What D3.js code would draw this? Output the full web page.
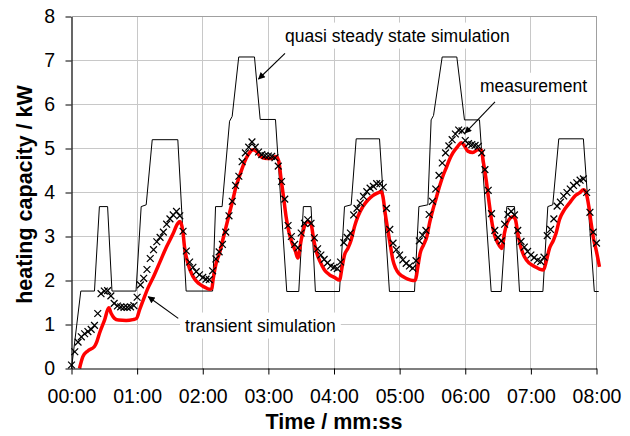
<!DOCTYPE html>
<html>
<head>
<meta charset="utf-8">
<script src="https://cdn.jsdelivr.net/npm/d3@7"></script>
<style>
  html, body { margin: 0; padding: 0; background: #fff; }
  svg { display: block; }
  text { font-family: "Liberation Sans", Arial, sans-serif; fill: #000; }
</style>
</head>
<body>
<svg id="chart" width="630" height="436"></svg>
<script>
// ---------------- DATA ----------------
const xTickValues = [0, 60, 120, 180, 240, 300, 360, 420, 480];
const xTickLabels = ["00:00", "01:00", "02:00", "03:00", "04:00", "05:00", "06:00", "07:00", "08:00"];
const yTickValues = [0, 1, 2, 3, 4, 5, 6, 7, 8];

// quasi steady state simulation (time s, kW)
const qssTime = [0, 8.5, 21, 25.5, 33, 37, 59, 63.7, 68.3, 73.8, 97.2, 104.8, 129, 131.7, 137.7, 144.5, 146.9, 152.9, 167.3, 172.5, 186.5, 196.8, 207.8, 212, 219, 223, 245, 249.6, 255.7, 260.3, 281.6, 290.7, 313.6, 317.6, 325.8, 328.8, 331, 338.9, 352.3, 359.3, 373, 383.7, 392.9, 398, 405, 409.6, 431, 435.5, 440, 445.5, 468, 478, 482];
const qssValue = [0, 1.76, 1.76, 3.68, 3.68, 1.76, 1.76, 3.68, 3.72, 5.2, 5.2, 1.76, 1.76, 3.68, 3.68, 5.62, 5.73, 7.08, 7.08, 5.66, 5.66, 1.75, 1.75, 3.68, 3.68, 1.75, 1.75, 3.68, 3.72, 5.22, 5.22, 1.75, 1.75, 3.68, 3.72, 5.65, 5.75, 7.08, 7.08, 5.65, 5.65, 1.75, 1.75, 3.68, 3.68, 1.75, 1.75, 3.68, 3.72, 5.22, 5.22, 1.75, 1.75];

// transient simulation (time s, kW)
const trTime = [7.3, 10.4, 14.9, 21, 23.2, 25.6, 30.2, 34.1, 36.3, 39.3, 43, 50, 56, 59.5, 62.2, 66.7, 69.8, 74.3, 80.5, 86.6, 92.6, 97.2, 99.2, 101.8, 103.3, 106.4, 110.9, 116.4, 121.6, 126.2, 128.3, 129.5, 132.2, 135.3, 138.3, 141.4, 144.4, 147.5, 150.5, 153.6, 156.6, 159.7, 162.7, 165.8, 168.8, 171.9, 176.4, 182.5, 187.1, 189.5, 191.7, 193.8, 196.2, 198.7, 201.7, 204.8, 206.9, 210, 213, 216, 219.1, 221.5, 224.3, 227.3, 231.3, 235.9, 240.4, 245, 247.5, 249.6, 252.7, 255.7, 258.8, 261.8, 266.4, 271, 275.5, 280.1, 283.1, 284.7, 286.8, 289.2, 291.7, 293.8, 296.3, 299.3, 303, 307.5, 312.1, 314.5, 316.7, 318.8, 321.9, 324.9, 327.3, 330.4, 333.4, 336.5, 339.5, 342.6, 345.6, 348.7, 353.2, 356.3, 359.3, 362.3, 366.9, 371.5, 374.5, 376.7, 379.1, 381.5, 384, 386.7, 389.8, 393.4, 395.9, 398.9, 403.5, 405.9, 408, 411.1, 414.1, 418.7, 423.3, 427.9, 431.5, 434, 437, 440.7, 443.1, 446.1, 450.7, 455.3, 459.9, 464.4, 468.1, 470.5, 473, 475.1, 477.5, 479.7, 482.7];
const trValue = [0, 0.27, 0.4, 0.5, 0.61, 0.8, 1.1, 1.38, 1.25, 1.14, 1.1, 1.09, 1.11, 1.14, 1.33, 1.63, 1.82, 2.05, 2.4, 2.75, 3.05, 3.3, 3.34, 3.12, 2.77, 2.39, 2.1, 1.93, 1.85, 1.8, 1.82, 2.03, 2.39, 2.62, 2.92, 3.23, 3.53, 3.83, 4.14, 4.37, 4.59, 4.78, 4.9, 4.97, 4.94, 4.84, 4.78, 4.77, 4.82, 4.71, 4.29, 3.91, 3.45, 3.11, 2.85, 2.66, 2.51, 2.92, 3.23, 3.34, 3.27, 2.92, 2.62, 2.43, 2.24, 2.13, 2.07, 2.01, 2.32, 2.58, 2.73, 2.92, 3.23, 3.45, 3.68, 3.83, 3.93, 3.99, 4.02, 3.91, 3.53, 3.15, 2.77, 2.47, 2.28, 2.16, 2.09, 2.03, 2.0, 2.01, 2.32, 2.62, 2.81, 3.0, 3.3, 3.61, 3.87, 4.14, 4.37, 4.56, 4.75, 4.9, 5.05, 5.13, 5.06, 4.94, 4.91, 4.97, 4.97, 4.67, 4.29, 3.83, 3.38, 3.04, 2.85, 2.73, 3.08, 3.34, 3.45, 3.38, 3.08, 2.73, 2.54, 2.39, 2.32, 2.26, 2.24, 2.43, 2.73, 2.92, 3.08, 3.38, 3.61, 3.76, 3.91, 3.99, 4.06, 3.99, 3.68, 3.3, 2.92, 2.69, 2.31];

// measurement, one sample every 3 s starting at 00:00 (kW)
const measStep = 3;
const measValue = [0.08, 0.38, 0.6, 0.72, 0.79, 0.84, 0.89, 0.98, 1.25, 1.7, 1.76, 1.77, 1.65, 1.48, 1.42, 1.4, 1.39, 1.39, 1.4, 1.43, 1.62, 1.9, 2.05, 2.25, 2.5, 2.7, 2.88, 2.98, 3.1, 3.28, 3.4, 3.49, 3.57, 3.47, 3.12, 2.67, 2.42, 2.3, 2.2, 2.13, 2.07, 2.03, 2.02, 2.22, 2.49, 2.65, 2.82, 3.1, 3.47, 3.8, 4.16, 4.37, 4.7, 4.9, 5.03, 5.15, 5.03, 4.92, 4.86, 4.84, 4.83, 4.82, 4.79, 4.6, 4.25, 3.85, 3.25, 3.0, 2.82, 2.74, 3.08, 3.3, 3.38, 3.3, 2.97, 2.72, 2.58, 2.48, 2.4, 2.33, 2.3, 2.27, 2.42, 2.86, 2.98, 3.08, 3.49, 3.64, 3.76, 3.91, 4.02, 4.1, 4.14, 4.2, 4.2, 4.12, 3.64, 3.16, 2.85, 2.7, 2.58, 2.47, 2.39, 2.33, 2.28, 2.45, 2.9, 3.03, 3.14, 3.5, 3.8, 4.08, 4.39, 4.67, 4.9, 5.06, 5.2, 5.33, 5.42, 5.4, 5.18, 5.11, 5.09, 5.07, 5.05, 4.9, 4.52, 4.05, 3.52, 3.14, 2.98, 2.9, 3.28, 3.5, 3.57, 3.49, 3.14, 2.89, 2.76, 2.66, 2.58, 2.52, 2.46, 2.43, 2.53, 3.02, 3.16, 3.4, 3.69, 3.78, 3.92, 4.0, 4.08, 4.16, 4.22, 4.28, 4.31, 4.0, 3.55, 3.1, 2.85];

// annotations: label, label anchor (time, kW), arrow start and tip (time, kW)
const annotations = [
  { text: "quasi steady state simulation", tx: 195.2, ty: 7.43, ax1: 195.2, ay1: 7.16, ax2: 171.0, ay2: 6.58 },
  { text: "measurement", tx: 373.5, ty: 6.29, ax1: 387.2, ay1: 6.06, ax2: 359.8, ay2: 5.35 },
  { text: "transient simulation", tx: 103.8, ty: 0.84, ax1: 97.6, ay1: 1.14, ax2: 70.2, ay2: 1.63 }
];

// ---------------- CHART ----------------
const svg = d3.select("#chart");
const pL = 71.5, pR = 596.5, pT = 16.5, pB = 368.5;
const x = d3.scaleLinear().domain([0, 480]).range([pL, pR]);
const y = d3.scaleLinear().domain([0, 8]).range([pB, pT]);

// gridlines
const grid = svg.append("g").attr("stroke", "#c8c8c8").attr("stroke-width", 1).attr("shape-rendering", "crispEdges");
grid.selectAll("line.v").data(xTickValues.slice(1)).join("line").attr("class", "v")
  .attr("x1", d => x(d)).attr("x2", d => x(d)).attr("y1", pT).attr("y2", pB);
grid.selectAll("line.h").data(yTickValues.slice(1)).join("line").attr("class", "h")
  .attr("x1", pL).attr("x2", pR).attr("y1", d => y(d)).attr("y2", d => y(d));

// frame top/right
svg.append("line").attr("x1", pL).attr("x2", pR).attr("y1", pT).attr("y2", pT)
  .attr("stroke", "#a0a0a0").attr("shape-rendering", "crispEdges");
svg.append("line").attr("x1", pR).attr("x2", pR).attr("y1", pT).attr("y2", pB)
  .attr("stroke", "#a0a0a0").attr("shape-rendering", "crispEdges");

// annotation boxes + text
const ann = svg.append("g");
annotations.forEach(a => {
  const t = ann.append("text").attr("x", x(a.tx)).attr("y", y(a.ty))
    .attr("font-size", "17.5px").text(a.text);
  const bb = t.node().getBBox();
  ann.insert("rect", "text").attr("x", bb.x - 5).attr("y", bb.y - 3)
    .attr("width", bb.width + 10).attr("height", bb.height + 6).attr("fill", "#fff");
});

// arrows
const defs = svg.append("defs");
defs.append("marker").attr("id", "ah").attr("viewBox", "0 0 10 10").attr("refX", 9).attr("refY", 5)
  .attr("markerWidth", 9).attr("markerHeight", 7).attr("markerUnits", "userSpaceOnUse").attr("orient", "auto")
  .append("path").attr("d", "M0,0 L10,5 L0,10 Z").attr("fill", "#000");
svg.append("g").selectAll("line").data(annotations).join("line")
  .attr("x1", d => x(d.ax1)).attr("y1", d => y(d.ay1))
  .attr("x2", d => x(d.ax2)).attr("y2", d => y(d.ay2))
  .attr("stroke", "#000").attr("stroke-width", 1.1).attr("marker-end", "url(#ah)");

// quasi steady state line
const qss = qssTime.map((t, i) => [t, qssValue[i]]);
svg.append("path").datum(qss)
  .attr("d", d3.line().x(d => x(d[0])).y(d => y(d[1])))
  .attr("fill", "none").attr("stroke", "#000").attr("stroke-width", 1);

// transient simulation
const tr = trTime.map((t, i) => [t, trValue[i]]);
svg.append("path").datum(tr)
  .attr("d", d3.line().curve(d3.curveMonotoneX).x(d => x(d[0])).y(d => y(d[1])))
  .attr("fill", "none").attr("stroke", "#ff0000").attr("stroke-width", 3.5).attr("stroke-linejoin", "round");

// measurement markers
const meas = measValue.map((v, i) => [i * measStep, v]);
const s = 3.4;
svg.append("g").selectAll("path").data(meas).join("path")
  .attr("transform", d => `translate(${x(d[0])},${y(d[1])})`)
  .attr("d", `M${-s},${-s}L${s},${s}M${-s},${s}L${s},${-s}`)
  .attr("stroke", "#000").attr("stroke-width", 1.25).attr("fill", "none");

// axes
const xAxis = d3.axisBottom(x).tickValues(xTickValues).tickFormat((d, i) => xTickLabels[i])
  .tickSizeInner(6).tickSizeOuter(0).tickPadding(15);
const gx = svg.append("g").attr("transform", `translate(0,${pB})`).call(xAxis);
const yAxis = d3.axisLeft(y).tickValues(yTickValues).tickFormat(d3.format("d"))
  .tickSizeInner(6).tickSizeOuter(0).tickPadding(10.5);
const gy = svg.append("g").attr("transform", `translate(${pL},0)`).call(yAxis);
[gx, gy].forEach(g => {
  g.selectAll("path.domain").attr("stroke", "#000").attr("stroke-width", 1.2);
  g.selectAll(".tick line").attr("stroke", "#000");
  g.selectAll(".tick text").attr("font-family", "Liberation Sans, Arial, sans-serif")
    .attr("font-size", "19.5px").attr("fill", "#000");
});

// axis titles
svg.append("text").attr("x", (pL + pR) / 2).attr("y", 429).attr("text-anchor", "middle")
  .attr("font-weight", "bold").attr("font-size", "21.5px").text("Time / mm:ss");
svg.append("text").attr("transform", `translate(32,${(pT + pB) / 2 + 2}) rotate(-90)`)
  .attr("text-anchor", "middle").attr("font-weight", "bold").attr("font-size", "21.5px")
  .text("heating capacity / kW");
</script>
</body>
</html>
